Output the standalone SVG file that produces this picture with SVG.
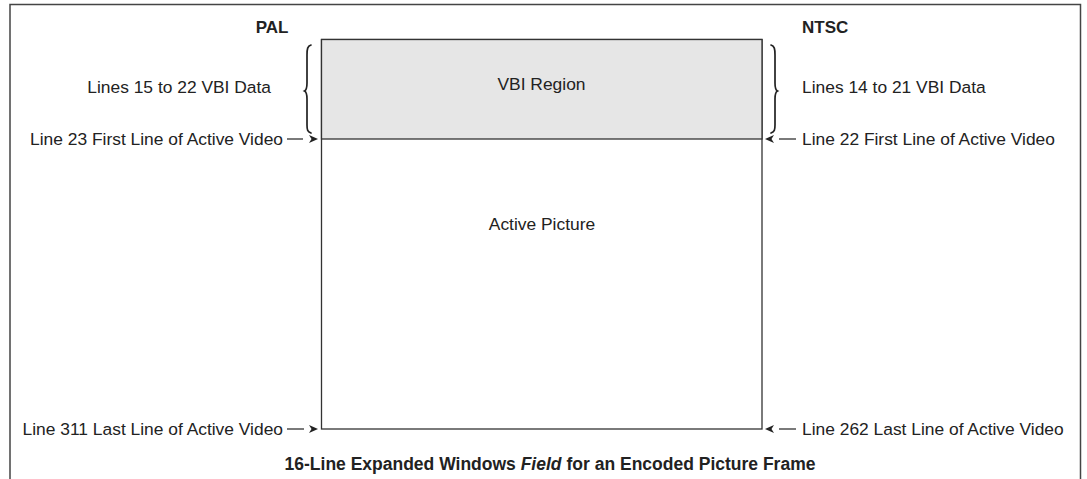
<svg xmlns="http://www.w3.org/2000/svg" xmlns:xlink="http://www.w3.org/1999/xlink" width="1087" height="479" viewBox="0 0 1087 479">
<style>
  text { font-family: "Liberation Sans", Arial, sans-serif; fill: #222; }
  .lbl { font-size: 17.4px; }
  .hd { font-size: 17px; font-weight: bold; }
  .title { font-size: 17.5px; font-weight: bold; }
  .frame { fill: none; stroke: #444; stroke-width: 1.5; }
  .box { stroke: #333; stroke-width: 1.3; }
  .brace { fill: none; stroke: #222; stroke-width: 1.7; stroke-linecap: round; }
  .dash { stroke: #222; stroke-width: 1.2; }
  .ah { fill: #222; }
</style>
<defs>
  <path id="ahR" d="M0,0 L-9,-4 L-6.5,0 L-9,4 Z"/>
</defs>
<rect width="1087" height="479" fill="#fff"/>
<path class="frame" d="M10,480 L10,4.5 L1080.5,4.5 L1080.5,480"/>

<g id="frame-window">
  <rect class="box" x="321.5" y="39.5" width="440.5" height="389.5" fill="#fff"/>
</g>
<g id="vbi-region">
  <rect class="box" x="321.5" y="39.5" width="440.5" height="99.5" fill="#e6e6e6"/>
  <text class="lbl" x="541.5" y="90" text-anchor="middle">VBI Region</text>
</g>
<g id="active-picture">
  <text class="lbl" x="542" y="230" text-anchor="middle">Active Picture</text>
</g>

<g id="pal-labels">
  <text class="hd" x="272" y="33" text-anchor="middle">PAL</text>
  <text class="lbl" x="271" y="93" text-anchor="end">Lines 15 to 22 VBI Data</text>
  <text class="lbl" x="283" y="145" text-anchor="end">Line 23 First Line of Active Video</text>
  <text class="lbl" x="283" y="434.5" text-anchor="end">Line 311 Last Line of Active Video</text>
</g>
<g id="ntsc-labels">
  <text class="hd" x="802" y="33">NTSC</text>
  <text class="lbl" x="802" y="93">Lines 14 to 21 VBI Data</text>
  <text class="lbl" x="802" y="145">Line 22 First Line of Active Video</text>
  <text class="lbl" x="802" y="434.5">Line 262 Last Line of Active Video</text>
</g>

<g id="connectors">
  <path class="brace" d="M311,45 C307.5,46 307,49 307,55 L307,83 C307,88 306.5,90 304.5,91 C306.5,92 307,94 307,99 L307,125 C307,130 307.5,131.5 311,133"/>
  <path class="brace" d="M771,45 C774.5,46 775,49 775,55 L775,83 C775,88 775.5,90 777.5,91 C775.5,92 775,94 775,99 L775,125 C775,130 774.5,131.5 771,133"/>
  <line class="dash" x1="287" y1="139" x2="303" y2="139"/>
  <line class="dash" x1="287" y1="429" x2="304" y2="429"/>
  <line class="dash" x1="779" y1="139" x2="796" y2="139"/>
  <line class="dash" x1="779" y1="429" x2="796" y2="429"/>
  <use class="ah" xlink:href="#ahR" transform="translate(318,139)"/>
  <use class="ah" xlink:href="#ahR" transform="translate(318,429)"/>
  <use class="ah" xlink:href="#ahR" transform="translate(765,139) scale(-1,1)"/>
  <use class="ah" xlink:href="#ahR" transform="translate(765,429) scale(-1,1)"/>
</g>

<g id="caption">
  <text class="title" x="550" y="470" text-anchor="middle">16-Line Expanded Windows <tspan font-style="italic">Field</tspan><tspan dx="5">for an Encoded Picture Frame</tspan></text>
</g>
</svg>
